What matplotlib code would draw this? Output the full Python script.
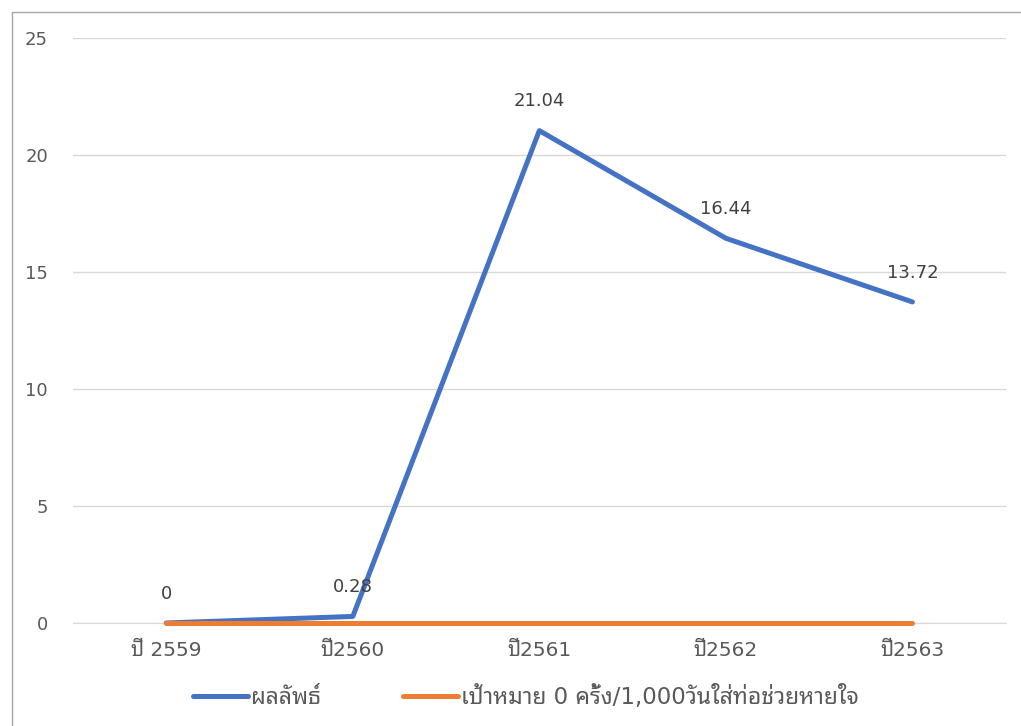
import matplotlib
matplotlib.use("Agg")
import matplotlib.pyplot as plt
from matplotlib.lines import Line2D

# data
years = ["ปี 2559", "ปี2560", "ปี2561", "ปี2562", "ปี2563"]
result = [0, 0.28, 21.04, 16.44, 13.72]
target = [0, 0, 0, 0, 0]
series_names = ["ผลลัพธ์", "เป้าหมาย 0 ครั้ง/1,000วันใส่ท่อช่วยหายใจ"]

# DejaVu for latin/digits (Verdana-like), looped Thai font for the Thai letters
plt.rcParams["font.family"] = ["DejaVu Sans", "Noto Sans Thai Looped", "Loma"]

BLUE = "#4472C4"
ORANGE = "#ED7D31"
GRAY = "#595959"

fig = plt.figure(figsize=(10.21, 7.26), dpi=100)
ax = fig.add_axes([0.0715, 0.1419, 0.9135, 0.8058])

x = list(range(len(years)))
ax.plot(x, result, color=BLUE, lw=3.6, solid_capstyle="round", clip_on=False, zorder=3)
ax.plot(x, target, color=ORANGE, lw=3.6, solid_capstyle="round", clip_on=False, zorder=4)

for xi, v in zip(x, result):
    ax.annotate(f"{v:g}", (xi, v), xytext=(0, 21), textcoords="offset points",
                ha="center", va="center", fontsize=13, color="#404040")

ax.set_xlim(-0.5, len(years) - 0.5)
ax.set_ylim(0, 25)
ax.set_yticks([0, 5, 10, 15, 20, 25])
ax.set_xticks(x)
ax.set_xticklabels(years)
ax.grid(axis="y", color="#D9D9D9", lw=1)
ax.set_axisbelow(True)
for s in ["top", "right", "left"]:
    ax.spines[s].set_visible(False)
ax.spines["bottom"].set_color("#D9D9D9")
ax.tick_params(axis="both", length=0, labelsize=13, colors=GRAY)
ax.tick_params(axis="x", pad=13, labelsize=14.5)
ax.tick_params(axis="y", pad=18)

handles = [Line2D([], [], color=BLUE, lw=3.6, solid_capstyle="round"),
           Line2D([], [], color=ORANGE, lw=3.6, solid_capstyle="round")]
leg = fig.legend(handles, series_names, loc="center", bbox_to_anchor=(0.515, 0.04),
                 ncol=2, frameon=False, fontsize=16.5, handlelength=2.4,
                 handletextpad=0.12, columnspacing=3.6)
for t in leg.get_texts():
    t.set_color(GRAY)

# chart border
fig.add_artist(plt.Rectangle((12 / 1021, -0.01), 1.0, 1 - 12 / 726 + 0.01,
                             transform=fig.transFigure, fill=False,
                             edgecolor="#A6A6A6", lw=1))

fig.savefig("out.png", dpi=100)
